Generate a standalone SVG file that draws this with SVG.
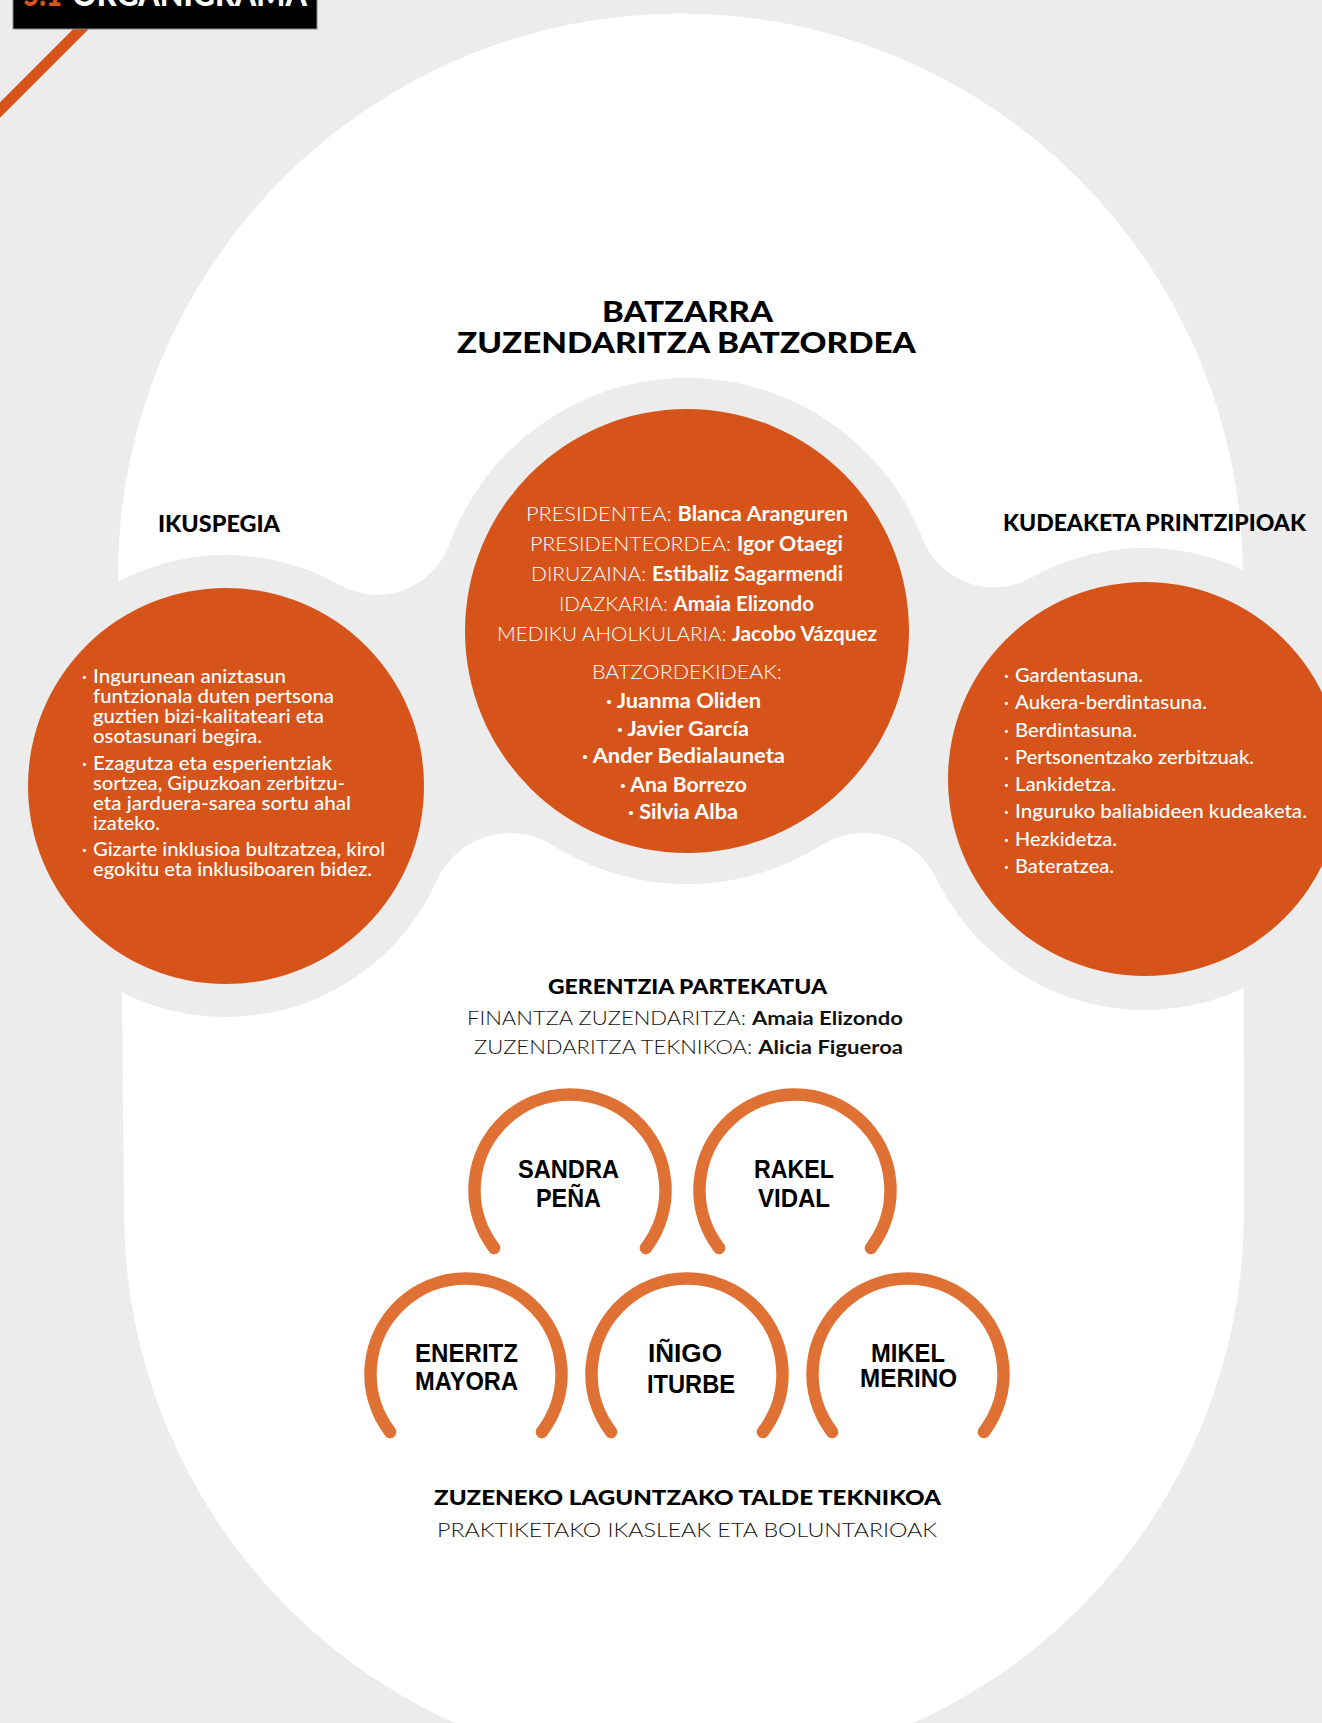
<svg xmlns="http://www.w3.org/2000/svg" width="1322" height="1723" viewBox="0 0 1322 1723">
<style>
text{font-family:Lato,"Liberation Sans",sans-serif;}
.h{font-weight:900;fill:#000;}
.lt{font-weight:300;}
.b{font-weight:700;}
.m{font-weight:500;}
.w{fill:#fff;}
.k{fill:#111;}
.halo{fill:#ececec;}
.org{fill:#D6541A;}
.arc{fill:none;stroke:#E07134;stroke-width:12.5;stroke-linecap:round;}
.nm{font-family:"Liberation Sans",Arial,sans-serif;font-weight:700;font-size:25px;fill:#000;}
</style>
<rect x="0" y="0" width="1322" height="1723" fill="#ececec"/>
<g id="background-shape">
<path d="M118,576 A562.5,562.5 0 0 1 1243,576 L1244,1212 A560,560 0 0 1 124,1212 Z" fill="#fff"/>
<path class="halo" d="M226,786 L339.4,584.8 A77,77 0 0 0 449.5,544.1 L687,631 Z"/>
<path class="halo" d="M687,631 L922.5,538.5 A77,77 0 0 0 1031.9,577.5 L1145,779 Z"/>
<path class="halo" d="M226,786 L436.9,880.3 A80,80 0 0 1 552.5,845.3 L687,631 Z"/>
<path class="halo" d="M687,631 L821.7,845.2 A80,80 0 0 1 936.5,878.5 L1145,779 Z"/>
<circle class="halo" cx="226" cy="786" r="231"/>
<circle class="halo" cx="687" cy="631" r="253"/>
<circle class="halo" cx="1145" cy="779" r="231"/>
</g>
<g id="title">
<line x1="-10" y1="120" x2="115" y2="-5" stroke="#D6541A" stroke-width="11"/>
<rect x="13" y="-2" width="304" height="31" fill="#000" stroke="#888" stroke-width="1"/>
<text x="23" y="6" font-size="34" class="h" fill="#D6541A" style="fill:#D6541A" textLength="39" lengthAdjust="spacingAndGlyphs">5.1</text>
<text x="72" y="6" font-size="34" class="h" style="fill:#fff" textLength="235" lengthAdjust="spacingAndGlyphs">ORGANIGRAMA</text>
</g>
<g id="batzarra-header">
<text class="h" x="602" y="322" font-size="28" textLength="171" lengthAdjust="spacingAndGlyphs">BATZARRA</text>
<text class="h" x="457" y="353" font-size="28" textLength="459" lengthAdjust="spacingAndGlyphs">ZUZENDARITZA BATZORDEA</text>
</g>
<g id="node-batzordea">
<circle class="org" cx="687" cy="631" r="222"/>
<g class="w" font-size="20">
<text x="526" y="521" textLength="322" lengthAdjust="spacingAndGlyphs"><tspan class="lt">PRESIDENTEA: </tspan><tspan class="b">Blanca Aranguren</tspan></text>
<text x="530" y="551" textLength="313" lengthAdjust="spacingAndGlyphs"><tspan class="lt">PRESIDENTEORDEA: </tspan><tspan class="b">Igor Otaegi</tspan></text>
<text x="531" y="581" textLength="312" lengthAdjust="spacingAndGlyphs"><tspan class="lt">DIRUZAINA: </tspan><tspan class="b">Estibaliz Sagarmendi</tspan></text>
<text x="559" y="611" textLength="255" lengthAdjust="spacingAndGlyphs"><tspan class="lt">IDAZKARIA: </tspan><tspan class="b">Amaia Elizondo</tspan></text>
<text x="497" y="641" textLength="380" lengthAdjust="spacingAndGlyphs"><tspan class="lt">MEDIKU AHOLKULARIA: </tspan><tspan class="b">Jacobo Vázquez</tspan></text>
<text class="lt" x="592" y="679" textLength="190" lengthAdjust="spacingAndGlyphs">BATZORDEKIDEAK:</text>
<text class="b" x="606" y="708" textLength="155" lengthAdjust="spacingAndGlyphs">· Juanma Oliden</text>
<text class="b" x="617" y="736" textLength="132" lengthAdjust="spacingAndGlyphs">· Javier García</text>
<text class="b" x="582" y="763" textLength="203" lengthAdjust="spacingAndGlyphs">· Ander Bedialauneta</text>
<text class="b" x="620" y="792" textLength="127" lengthAdjust="spacingAndGlyphs">· Ana Borrezo</text>
<text class="b" x="628" y="819" textLength="110" lengthAdjust="spacingAndGlyphs">· Silvia Alba</text>
</g>
</g>
<g id="node-ikuspegia">
<text class="h" x="158" y="532" font-size="22" textLength="122" lengthAdjust="spacingAndGlyphs">IKUSPEGIA</text>
<circle class="org" cx="226" cy="786" r="198"/>
<g class="w m" font-size="18.5">
<text x="82" y="683">·</text>
<text x="93" y="683" textLength="193" lengthAdjust="spacingAndGlyphs">Ingurunean aniztasun</text>
<text x="93" y="703" textLength="241" lengthAdjust="spacingAndGlyphs">funtzionala duten pertsona</text>
<text x="93" y="723" textLength="231" lengthAdjust="spacingAndGlyphs">guztien bizi-kalitateari eta</text>
<text x="93" y="743" textLength="169" lengthAdjust="spacingAndGlyphs">osotasunari begira.</text>
<text x="82" y="770">·</text>
<text x="93" y="770" textLength="239" lengthAdjust="spacingAndGlyphs">Ezagutza eta esperientziak</text>
<text x="93" y="790" textLength="252" lengthAdjust="spacingAndGlyphs">sortzea, Gipuzkoan zerbitzu-</text>
<text x="93" y="810" textLength="258" lengthAdjust="spacingAndGlyphs">eta jarduera-sarea sortu ahal</text>
<text x="93" y="830" textLength="67" lengthAdjust="spacingAndGlyphs">izateko.</text>
<text x="82" y="856">·</text>
<text x="93" y="856" textLength="292" lengthAdjust="spacingAndGlyphs">Gizarte inklusioa bultzatzea, kirol</text>
<text x="93" y="876" textLength="279" lengthAdjust="spacingAndGlyphs">egokitu eta inklusiboaren bidez.</text>
</g>
</g>
<g id="node-kudeaketa">
<text class="h" x="1003" y="531" font-size="22" textLength="303" lengthAdjust="spacingAndGlyphs">KUDEAKETA PRINTZIPIOAK</text>
<circle class="org" cx="1145" cy="779" r="197"/>
<g class="w m" font-size="18.5">
<text x="1004" y="682">·</text><text x="1015" y="682" textLength="128" lengthAdjust="spacingAndGlyphs">Gardentasuna.</text>
<text x="1004" y="709">·</text><text x="1015" y="709" textLength="192" lengthAdjust="spacingAndGlyphs">Aukera-berdintasuna.</text>
<text x="1004" y="737">·</text><text x="1015" y="737" textLength="122" lengthAdjust="spacingAndGlyphs">Berdintasuna.</text>
<text x="1004" y="764">·</text><text x="1015" y="764" textLength="239" lengthAdjust="spacingAndGlyphs">Pertsonentzako zerbitzuak.</text>
<text x="1004" y="791">·</text><text x="1015" y="791" textLength="101" lengthAdjust="spacingAndGlyphs">Lankidetza.</text>
<text x="1004" y="818">·</text><text x="1015" y="818" textLength="292" lengthAdjust="spacingAndGlyphs">Inguruko baliabideen kudeaketa.</text>
<text x="1004" y="846">·</text><text x="1015" y="846" textLength="102" lengthAdjust="spacingAndGlyphs">Hezkidetza.</text>
<text x="1004" y="873">·</text><text x="1015" y="873" textLength="99" lengthAdjust="spacingAndGlyphs">Bateratzea.</text>
</g>
</g>
<g id="node-gerentzia">
<text class="h" x="548" y="994" font-size="20" textLength="279" lengthAdjust="spacingAndGlyphs">GERENTZIA PARTEKATUA</text>
<text class="k" x="467" y="1025" font-size="19" textLength="436" lengthAdjust="spacingAndGlyphs"><tspan class="lt">FINANTZA ZUZENDARITZA: </tspan><tspan class="b">Amaia Elizondo</tspan></text>
<text class="k" x="474" y="1054" font-size="19" textLength="429" lengthAdjust="spacingAndGlyphs"><tspan class="lt">ZUZENDARITZA TEKNIKOA: </tspan><tspan class="b">Alicia Figueroa</tspan></text>
</g>
<g id="node-sandra">
<path class="arc" d="M494.1,1248 A95.5,95.5 0 1 1 645.9,1248"/>
<text class="nm" x="518" y="1178" textLength="101" lengthAdjust="spacingAndGlyphs">SANDRA</text>
<text class="nm" x="536" y="1207" textLength="65" lengthAdjust="spacingAndGlyphs">PEÑA</text>
</g>
<g id="node-rakel">
<path class="arc" d="M719.1,1248 A95.5,95.5 0 1 1 870.9,1248"/>
<text class="nm" x="754" y="1178" textLength="80" lengthAdjust="spacingAndGlyphs">RAKEL</text>
<text class="nm" x="758" y="1207" textLength="72" lengthAdjust="spacingAndGlyphs">VIDAL</text>
</g>
<g id="node-eneritz">
<path class="arc" d="M390.1,1432 A95.5,95.5 0 1 1 541.9,1432"/>
<text class="nm" x="415" y="1362" textLength="103" lengthAdjust="spacingAndGlyphs">ENERITZ</text>
<text class="nm" x="415" y="1390" textLength="103" lengthAdjust="spacingAndGlyphs">MAYORA</text>
</g>
<g id="node-inigo">
<path class="arc" d="M611.1,1432 A95.5,95.5 0 1 1 762.9,1432"/>
<text class="nm" x="648" y="1362" textLength="74" lengthAdjust="spacingAndGlyphs">IÑIGO</text>
<text class="nm" x="647" y="1393" textLength="88" lengthAdjust="spacingAndGlyphs">ITURBE</text>
</g>
<g id="node-mikel">
<path class="arc" d="M832.1,1432 A95.5,95.5 0 1 1 983.9,1432"/>
<text class="nm" x="871" y="1362" textLength="74" lengthAdjust="spacingAndGlyphs">MIKEL</text>
<text class="nm" x="860" y="1387" textLength="97" lengthAdjust="spacingAndGlyphs">MERINO</text>
</g>
<g id="node-taldea">
<text class="h" x="434" y="1505" font-size="21" textLength="507" lengthAdjust="spacingAndGlyphs">ZUZENEKO LAGUNTZAKO TALDE TEKNIKOA</text>
<text class="k lt" x="437" y="1537" font-size="20" textLength="500" lengthAdjust="spacingAndGlyphs">PRAKTIKETAKO IKASLEAK ETA BOLUNTARIOAK</text>
</g>
<g id="connectors"></g>
</svg>
